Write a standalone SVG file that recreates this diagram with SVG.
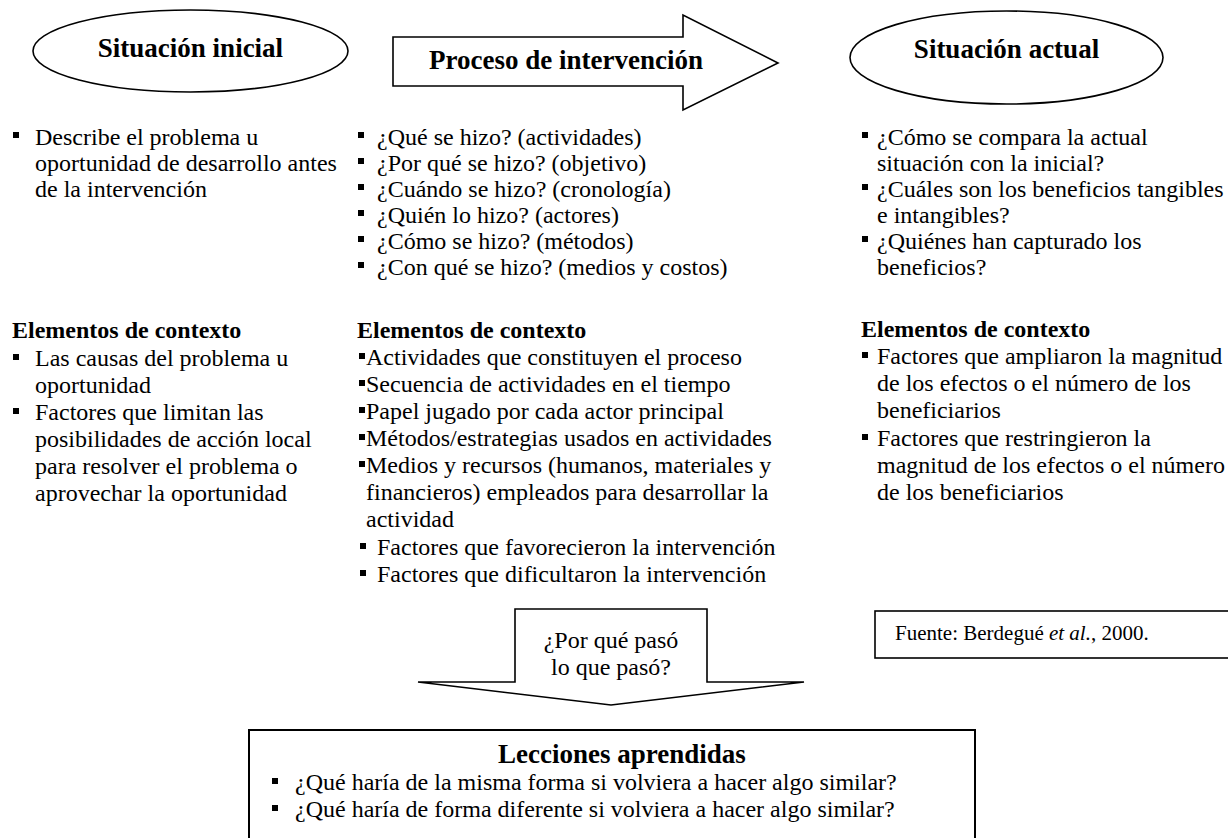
<svg xmlns="http://www.w3.org/2000/svg" width="1228" height="838" viewBox="0 0 1228 838">
<style>
.t{font-family:"Liberation Serif","Times New Roman",serif;font-size:24px;fill:#000}
.b{font-weight:bold}
.h{font-family:"Liberation Serif","Times New Roman",serif;font-size:27px;font-weight:bold;fill:#000}
.s{fill:#fff;stroke:#000;stroke-width:1.6}
.bl{fill:#000}
</style>
<defs>
<rect id="bu" width="6" height="6" class="bl"/>
</defs>
<g id="situacion-inicial">
<ellipse class="s" cx="190.5" cy="51" rx="157.5" ry="41"/>
<text class="h" x="190.5" y="57" text-anchor="middle">Situación inicial</text>
</g>
<g id="proceso-intervencion">
<polygon class="s" points="393,37 683,37 683,15 778,63 683,110 683,86 393,86"/>
<text class="h" x="566" y="69" text-anchor="middle">Proceso de intervención</text>
</g>
<g id="situacion-actual">
<ellipse class="s" cx="1006.5" cy="57.5" rx="156.5" ry="46.5"/>
<text class="h" x="1006.5" y="58" text-anchor="middle">Situación actual</text>
</g>
<g id="col1-top">
<use href="#bu" x="13" y="132"/>
<text class="t" x="35" y="145">Describe el problema u</text>
<text class="t" x="35" y="171">oportunidad de desarrollo antes</text>
<text class="t" x="35" y="197">de la intervención</text>
</g>
<g id="col1-contexto">
<text class="t b" x="12" y="338">Elementos de contexto</text>
<use href="#bu" x="13" y="354"/>
<text class="t" x="35" y="366">Las causas del problema u</text>
<text class="t" x="35" y="393">oportunidad</text>
<use href="#bu" x="13" y="408"/>
<text class="t" x="35" y="420">Factores que limitan las</text>
<text class="t" x="35" y="447">posibilidades de acción local</text>
<text class="t" x="35" y="474">para resolver el problema o</text>
<text class="t" x="35" y="501">aprovechar la oportunidad</text>
</g>
<g id="col2-top">
<use href="#bu" x="358" y="132"/>
<text class="t" x="377" y="145">¿Qué se hizo? (actividades)</text>
<use href="#bu" x="358" y="158"/>
<text class="t" x="377" y="171">¿Por qué se hizo? (objetivo)</text>
<use href="#bu" x="358" y="184"/>
<text class="t" x="377" y="197">¿Cuándo se hizo? (cronología)</text>
<use href="#bu" x="358" y="210"/>
<text class="t" x="377" y="223">¿Quién lo hizo? (actores)</text>
<use href="#bu" x="358" y="236"/>
<text class="t" x="377" y="249">¿Cómo se hizo? (métodos)</text>
<use href="#bu" x="358" y="262"/>
<text class="t" x="377" y="275">¿Con qué se hizo? (medios y costos)</text>
</g>
<g id="col2-contexto">
<text class="t b" x="357" y="338">Elementos de contexto</text>
<use href="#bu" x="359" y="353"/>
<text class="t" x="366" y="365">Actividades que constituyen el proceso</text>
<use href="#bu" x="359" y="380"/>
<text class="t" x="366" y="392">Secuencia de actividades en el tiempo</text>
<use href="#bu" x="359" y="407"/>
<text class="t" x="366" y="419">Papel jugado por cada actor principal</text>
<use href="#bu" x="359" y="434"/>
<text class="t" x="366" y="446">Métodos/estrategias usados en actividades</text>
<use href="#bu" x="359" y="461"/>
<text class="t" x="366" y="473">Medios y recursos (humanos, materiales y</text>
<text class="t" x="366" y="500">financieros) empleados para desarrollar la</text>
<text class="t" x="366" y="527">actividad</text>
<use href="#bu" x="360" y="543"/>
<text class="t" x="377" y="555">Factores que favorecieron la intervención</text>
<use href="#bu" x="360" y="570"/>
<text class="t" x="377" y="582">Factores que dificultaron la intervención</text>
</g>
<g id="col3-top">
<use href="#bu" x="862" y="132"/>
<text class="t" x="877" y="145">¿Cómo se compara la actual</text>
<text class="t" x="877" y="171">situación con la inicial?</text>
<use href="#bu" x="862" y="184"/>
<text class="t" x="877" y="197">¿Cuáles son los beneficios tangibles</text>
<text class="t" x="877" y="223">e intangibles?</text>
<use href="#bu" x="862" y="236"/>
<text class="t" x="877" y="249">¿Quiénes han capturado los</text>
<text class="t" x="877" y="275">beneficios?</text>
</g>
<g id="col3-contexto">
<text class="t b" x="861" y="337">Elementos de contexto</text>
<use href="#bu" x="862" y="352"/>
<text class="t" x="877" y="364">Factores que ampliaron la magnitud</text>
<text class="t" x="877" y="391">de los efectos o el número de los</text>
<text class="t" x="877" y="418">beneficiarios</text>
<use href="#bu" x="862" y="434"/>
<text class="t" x="877" y="446">Factores que restringieron la</text>
<text class="t" x="877" y="473">magnitud de los efectos o el número</text>
<text class="t" x="877" y="500">de los beneficiarios</text>
</g>
<g id="fuente">
<rect class="s" x="875" y="611" width="360" height="47"/>
<text class="t" x="895" y="640" style="font-size:21px">Fuente: Berdegué <tspan font-style="italic">et al.</tspan>, 2000.</text>
</g>
<g id="por-que-paso">
<polygon class="s" points="418,682 515,682 515,609 707,609 707,682 804,682 611,705"/>
<text class="t" x="611" y="648" text-anchor="middle">¿Por qué pasó</text>
<text class="t" x="611" y="675" text-anchor="middle">lo que pasó?</text>
</g>
<g id="lecciones">
<rect class="s" x="249" y="730" width="726" height="130" style="stroke-width:2"/>
<text class="h" x="622" y="763" text-anchor="middle">Lecciones aprendidas</text>
<use href="#bu" x="272" y="778"/>
<text class="t" x="295" y="790">¿Qué haría de la misma forma si volviera a hacer algo similar?</text>
<use href="#bu" x="272" y="805"/>
<text class="t" x="295" y="817">¿Qué haría de forma diferente si volviera a hacer algo similar?</text>
</g>
<g id="connectors"></g>
</svg>
